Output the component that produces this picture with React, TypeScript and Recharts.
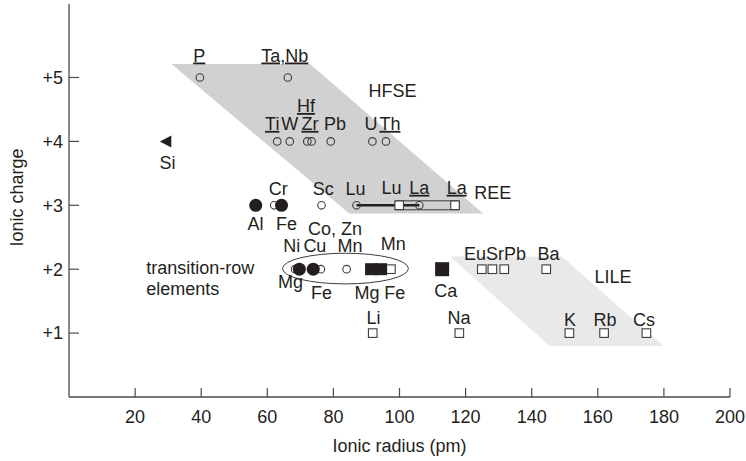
import React from 'react';
import { ScatterChart, Scatter, XAxis, YAxis, ReferenceArea, Label } from 'recharts';

const INK = '#231f20';
const AXIS = '#4a4a4a';
const FONT = '"Liberation Sans", Arial, Helvetica, sans-serif';

// axis ticks
const radiusTicks = [20, 40, 60, 80, 100, 120, 140, 160, 180, 200];
const chargeTicks = [1, 2, 3, 4, 5];

// shaded fields (ionic radius pm, charge)
const hfseZone = [
  { x: 31.0, y: 5.21 },
  { x: 72.9, y: 5.21 },
  { x: 125.3, y: 2.87 },
  { x: 84.8, y: 2.87 },
];
const lileZone = [
  { x: 115.3, y: 2.2 },
  { x: 149.1, y: 2.2 },
  { x: 179.9, y: 0.8 },
  { x: 145.4, y: 0.8 },
];

// REE ranges: 6-fold (circles) and 8-fold (squares)
const reeCircleSpan = [
  { x: 87.0, y: 3 },
  { x: 106.0, y: 3 },
];
const reeSquareBox = [
  { x: 98.7, y: 3.07 },
  { x: 118.0, y: 3.07 },
  { x: 118.0, y: 2.93 },
  { x: 98.7, y: 2.93 },
];

// ions
const openCircles = [
  { el: 'P', x: 39.6, y: 5 },
  { el: 'Ta,Nb', x: 66.2, y: 5 },
  { el: 'Ti', x: 63.0, y: 4 },
  { el: 'W', x: 66.8, y: 4 },
  { el: 'Zr', x: 72.1, y: 4 },
  { el: 'Hf', x: 73.4, y: 4 },
  { el: 'Pb', x: 79.2, y: 4 },
  { el: 'U', x: 91.8, y: 4 },
  { el: 'Th', x: 95.9, y: 4 },
  { el: 'Cr', x: 62.1, y: 3 },
  { el: 'Sc', x: 76.4, y: 3 },
  { el: 'Lu', x: 87.0, y: 3 },
  { el: 'La', x: 106.0, y: 3 },
  { el: 'Ni', x: 68.4, y: 2 },
  { el: 'Cu', x: 76.2, y: 2 },
  { el: 'Mn', x: 84.0, y: 2 },
];
const filledCircles = [
  { el: 'Al', x: 56.5, y: 3 },
  { el: 'Fe', x: 64.3, y: 3 },
  { el: 'Mg', x: 69.7, y: 2 },
  { el: 'Fe', x: 73.9, y: 2 },
];
const openSquares = [
  { el: 'Lu', x: 99.9, y: 3 },
  { el: 'La', x: 116.8, y: 3 },
  { el: 'Mn', x: 97.4, y: 2 },
  { el: 'Eu', x: 124.9, y: 2 },
  { el: 'Sr', x: 128.1, y: 2 },
  { el: 'Pb', x: 131.7, y: 2 },
  { el: 'Ba', x: 144.4, y: 2 },
  { el: 'Li', x: 91.9, y: 1 },
  { el: 'Na', x: 118.1, y: 1 },
  { el: 'K', x: 151.4, y: 1 },
  { el: 'Rb', x: 161.9, y: 1 },
  { el: 'Cs', x: 174.7, y: 1 },
];
const filledSquares = [
  { el: 'Mg', x: 91.4, y: 2 },
  { el: 'Fe', x: 94.4, y: 2 },
];
const bigSquares = [{ el: 'Ca', x: 112.9, y: 2 }];
const triangles = [{ el: 'Si', x: 29.3, y: 4 }];

// text anchors (baseline, data units)
const tags = [
  { text: 'HFSE', x: 97.9, y: 4.69 },
  { text: 'W', x: 66.8, y: 4.18 },
  { text: 'Pb', x: 80.5, y: 4.18 },
  { text: 'U', x: 91.4, y: 4.18 },
  { text: 'Si', x: 29.8, y: 3.57 },
  { text: 'Cr', x: 63.3, y: 3.16 },
  { text: 'Sc', x: 76.9, y: 3.16 },
  { text: 'Lu', x: 86.7, y: 3.16 },
  { text: 'Lu', x: 97.6, y: 3.18 },
  { text: 'REE', x: 128.2, y: 3.1 },
  { text: 'Al', x: 56.4, y: 2.61 },
  { text: 'Fe', x: 65.8, y: 2.61 },
  { text: 'Co, Zn', x: 80.5, y: 2.53 },
  { text: 'Ni', x: 67.4, y: 2.27 },
  { text: 'Cu', x: 74.4, y: 2.27 },
  { text: 'Mn', x: 85.0, y: 2.27 },
  { text: 'Mn', x: 98.1, y: 2.3 },
  { text: 'Mg', x: 67.0, y: 1.7 },
  { text: 'Fe', x: 76.4, y: 1.53 },
  { text: 'Mg', x: 90.2, y: 1.53 },
  { text: 'Fe', x: 98.6, y: 1.53 },
  { text: 'Ca', x: 114.0, y: 1.56 },
  { text: 'Li', x: 92.1, y: 1.14 },
  { text: 'Na', x: 118.0, y: 1.15 },
  { text: 'EuSrPb', x: 128.9, y: 2.14 },
  { text: 'Ba', x: 145.1, y: 2.14 },
  { text: 'LILE', x: 164.6, y: 1.78 },
  { text: 'K', x: 151.6, y: 1.11 },
  { text: 'Rb', x: 162.2, y: 1.11 },
  { text: 'Cs', x: 174.0, y: 1.11 },
];
const underlinedTags = [
  { text: 'P', x: 39.4, y: 5.25 },
  { text: 'Ta,Nb', x: 65.3, y: 5.25 },
  { text: 'Hf', x: 71.7, y: 4.46 },
  { text: 'Ti', x: 61.5, y: 4.18 },
  { text: 'Zr', x: 72.9, y: 4.18 },
  { text: 'Th', x: 97.1, y: 4.18 },
  { text: 'La', x: 106.0, y: 3.18 },
  { text: 'La', x: 117.3, y: 3.18 },
];
const sideNote = [
  { text: 'transition-row', x: 23.4, y: 1.93 },
  { text: 'elements', x: 23.4, y: 1.59 },
];

const nothing = () => <g />;

const fillPath = (fill: string, stroke: string, width: number, close: boolean) => (p: any) => {
  const pts = p.points as { x: number; y: number }[];
  const d = pts.map((q, i) => `${i ? 'L' : 'M'}${q.x},${q.y}`).join('') + (close ? 'Z' : '');
  return <path d={d} fill={fill} stroke={stroke} strokeWidth={width} />;
};

const openCircle = (p: any) => (
  <circle cx={p.cx} cy={p.cy} r={3.8} fill="none" stroke="#3c3c3c" strokeWidth={1.1} />
);
const filledCircle = (p: any) => <circle cx={p.cx} cy={p.cy} r={6.5} fill={INK} />;
const openSquare = (p: any) => (
  <rect x={p.cx - 4.3} y={p.cy - 4.3} width={8.6} height={8.6} fill="#fff" stroke="#3c3c3c" strokeWidth={1.1} />
);
const filledSquare = (p: any) => <rect x={p.cx - 6} y={p.cy - 6} width={12} height={12} fill={INK} />;
const bigSquare = (p: any) => <rect x={p.cx - 7} y={p.cy - 7} width={14} height={14} fill={INK} />;
const triangle = (p: any) => (
  <path d={`M${p.cx - 6},${p.cy}L${p.cx + 5.5},${p.cy - 6}L${p.cx + 5.5},${p.cy + 6}Z`} fill={INK} />
);

const tagText = (anchor: 'middle' | 'start', under: boolean) => (p: any) => (
  <text
    x={p.cx}
    y={p.cy}
    textAnchor={anchor}
    fontSize={18}
    fill={INK}
    style={under ? { textDecoration: 'underline', textDecorationThickness: '2px' } : undefined}
  >
    {p.payload.text}
  </text>
);

const ellipseShape = (p: any) => (
  <ellipse
    cx={p.x + p.width / 2}
    cy={p.y + p.height / 2}
    rx={p.width / 2}
    ry={p.height / 2}
    fill="none"
    stroke="#3c3c3c"
    strokeWidth={1}
  />
);

const xTitle = (p: any) => (
  <text x={p.viewBox.x + p.viewBox.width / 2} y={p.viewBox.y + 55} textAnchor="middle" fontSize={18} fill={INK}>
    Ionic radius (pm)
  </text>
);
const yTitle = (p: any) => {
  const x = p.viewBox.x + 14;
  const y = p.viewBox.y + p.viewBox.height / 2 - 3;
  return (
    <text x={x} y={y} transform={`rotate(-90 ${x} ${y})`} textAnchor="middle" fontSize={18} fill={INK}>
      Ionic charge
    </text>
  );
};

export default function App() {
  return (
    <div style={{ position: 'absolute', left: 0, top: 0, fontFamily: FONT }}>
      <ScatterChart width={746} height={461} margin={{ top: 4, right: 16, bottom: 0, left: 9 }}>
        <XAxis
          type="number"
          dataKey="x"
          domain={[0, 200]}
          ticks={radiusTicks}
          interval={0}
          height={64}
          tickSize={-9}
          tickMargin={22}
          axisLine={{ stroke: AXIS, strokeWidth: 1.3 }}
          tickLine={{ stroke: AXIS, strokeWidth: 1.2 }}
          tick={{ fontSize: 18, fill: INK }}
          label={{ content: xTitle }}
        />
        <YAxis
          type="number"
          dataKey="y"
          domain={[0, 6.15]}
          ticks={chargeTicks}
          interval={0}
          width={60}
          tickSize={-10}
          tickMargin={16}
          tickFormatter={(v: number) => `+${v}`}
          axisLine={{ stroke: AXIS, strokeWidth: 1.3 }}
          tickLine={{ stroke: AXIS, strokeWidth: 1.2 }}
          tick={{ fontSize: 18, fill: INK }}
          label={{ content: yTitle }}
        />

        <Scatter data={hfseZone} shape={nothing} line={fillPath('#d1d1d1', 'none', 0, true)} isAnimationActive={false} />
        <Scatter data={lileZone} shape={nothing} line={fillPath('#e9e9e9', 'none', 0, true)} isAnimationActive={false} />
        <Scatter data={reeSquareBox} shape={nothing} line={fillPath('none', '#3c3c3c', 1, true)} isAnimationActive={false} />
        <Scatter data={reeCircleSpan} shape={nothing} line={fillPath('none', INK, 2.6, false)} isAnimationActive={false} />

        <ReferenceArea x1={64.6} x2={102.7} y1={1.77} y2={2.25} shape={ellipseShape} />

        <Scatter data={openCircles} shape={openCircle} isAnimationActive={false} />
        <Scatter data={filledCircles} shape={filledCircle} isAnimationActive={false} />
        <Scatter data={openSquares} shape={openSquare} isAnimationActive={false} />
        <Scatter data={filledSquares} shape={filledSquare} isAnimationActive={false} />
        <Scatter data={bigSquares} shape={bigSquare} isAnimationActive={false} />
        <Scatter data={triangles} shape={triangle} isAnimationActive={false} />

        <Scatter data={tags} shape={tagText('middle', false)} isAnimationActive={false} />
        <Scatter data={underlinedTags} shape={tagText('middle', true)} isAnimationActive={false} />
        <Scatter data={sideNote} shape={tagText('start', false)} isAnimationActive={false} />
      </ScatterChart>
    </div>
  );
}
